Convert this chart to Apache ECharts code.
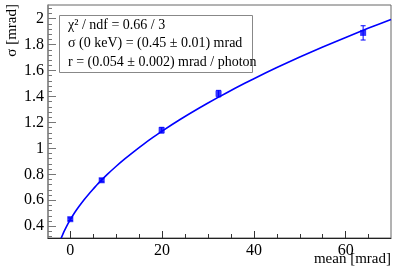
<!DOCTYPE html>
<html>
<head>
<meta charset="utf-8">
<script src="https://cdn.jsdelivr.net/npm/echarts@6/dist/echarts.min.js"></script>
<style>html,body{margin:0;padding:0;background:#fff}#c{width:399px;height:271px}</style>
</head>
<body>
<div id="c"></div>
<script>
// measured points
var meanVals = [0, 6.84, 19.9, 32.3, 63.8];
var sigmaVals = [0.454, 0.754, 1.14, 1.422, 1.89];
var sigmaErr = [0.01, 0.012, 0.022, 0.025, 0.055];
// fit curve samples (read from the drawn fit)
var fitX = [-2.0, -1.5, -1, -0.5, 0, 1, 2, 3, 4, 5, 6, 8, 10, 12, 14, 16, 18, 20, 24, 28, 32, 36, 40, 45, 50, 55, 60, 65, 69.87];
var fitY = [0.307, 0.349, 0.385, 0.419, 0.45, 0.507, 0.557, 0.604, 0.647, 0.687, 0.726, 0.797, 0.862, 0.922, 0.979, 1.033, 1.084, 1.133, 1.224, 1.309, 1.389, 1.465, 1.537, 1.623, 1.704, 1.781, 1.855, 1.927, 1.994];
// axis ticks
var xMajor = [0, 20, 40, 60];
var xMinor = [5, 10, 15, 25, 30, 35, 45, 50, 55, 65];
var yMajor = [0.4, 0.6, 0.8, 1, 1.2, 1.4, 1.6, 1.8, 2];
var yMinor = [0.32, 0.36, 0.44, 0.48, 0.52, 0.56, 0.64, 0.68, 0.72, 0.76, 0.84, 0.88, 0.92, 0.96, 1.04, 1.08, 1.12, 1.16, 1.24, 1.28, 1.32, 1.36, 1.44, 1.48, 1.52, 1.56, 1.64, 1.68, 1.72, 1.76, 1.84, 1.88, 1.92, 1.96, 2.04, 2.08];
var statLines = ['\u03c7\u00b2 / ndf = 0.66 / 3', '\u03c3 (0 keV) = (0.45 \u00b1 0.01) mrad', 'r = (0.054 \u00b1 0.002) mrad / photon'];

var FONT = '"Liberation Serif", "DejaVu Serif", serif';
var X_MIN = -4.86, X_MAX = 69.87, Y_MIN = 0.309, Y_MAX = 2.105;

var chart = echarts.init(document.getElementById('c'), null, {renderer: 'canvas'});

function xAx(custom, len, labels) {
  return {
    type: 'value', min: X_MIN, max: X_MAX, position: 'bottom',
    axisLine: {show: labels, onZero: false, lineStyle: {color: '#222', width: 1}},
    splitLine: {show: false},
    axisTick: {show: true, inside: true, length: len, customValues: custom, lineStyle: {color: '#333', width: 1}},
    axisLabel: {show: labels, customValues: custom, fontFamily: FONT, fontSize: 16, color: '#000', margin: 5}
  };
}
function yAx(custom, len, labels) {
  return {
    type: 'value', min: Y_MIN, max: Y_MAX, position: 'left',
    axisLine: {show: labels, onZero: false, lineStyle: {color: '#888', width: 1.5}},
    splitLine: {show: false},
    axisTick: {show: true, inside: true, length: len, customValues: custom, lineStyle: {color: '#777', width: 1}},
    axisLabel: {show: labels, customValues: custom, fontFamily: FONT, fontSize: 16, color: '#000', margin: 4}
  };
}

var scatterData = meanVals.map(function (m, i) { return [m, sigmaVals[i], sigmaErr[i]]; });
var fitData = fitX.map(function (x, i) { return [x, fitY[i]]; });

var graphics = [
  {type: 'rect', shape: {x: 59.5, y: 15.5, width: 193, height: 57}, style: {fill: '#fff', stroke: '#888', lineWidth: 1}, z: 100},
  {type: 'text', x: 391, y: 259, style: {text: 'mean [mrad]', font: '15px ' + FONT, fill: '#000', textAlign: 'right', textVerticalAlign: 'middle'}, z: 100},
  {type: 'text', x: 12, y: 4, rotation: Math.PI / 2, style: {text: '\u03c3 [mrad]', font: '15px ' + FONT, fill: '#000', textAlign: 'right', textVerticalAlign: 'middle'}, z: 100}
];
statLines.forEach(function (t, i) {
  graphics.push({type: 'text', x: 68, y: 25 + i * 18.8, style: {text: t, font: '14px ' + FONT, fill: '#000', textAlign: 'left', textVerticalAlign: 'middle'}, z: 101});
});

chart.setOption({
  animation: false,
  backgroundColor: '#fff',
  grid: {left: 48, right: 8, top: 5, bottom: 33, show: true, borderColor: '#666', borderWidth: 1, backgroundColor: 'transparent'},
  xAxis: [xAx(xMajor, 7, true), xAx(xMinor, 4, false)],
  yAxis: [yAx(yMajor, 8, true), yAx(yMinor, 4, false)],
  graphic: graphics,
  series: [
    {type: 'line', data: fitData, xAxisIndex: 0, yAxisIndex: 0, showSymbol: false, smooth: 0.2, clip: true,
     lineStyle: {color: '#0000ff', width: 1.6}, z: 3},
    {type: 'custom', data: scatterData, xAxisIndex: 0, yAxisIndex: 0, z: 4,
     renderItem: function (params, api) {
       var x = api.value(0), y = api.value(1), e = api.value(2);
       var top = api.coord([x, y + e]), bot = api.coord([x, y - e]);
       var st = {stroke: '#0000ff', lineWidth: 1};
       return {type: 'group', children: [
         {type: 'line', shape: {x1: top[0], y1: top[1], x2: bot[0], y2: bot[1]}, style: st},
         {type: 'line', shape: {x1: top[0] - 2.5, y1: top[1], x2: top[0] + 2.5, y2: top[1]}, style: st},
         {type: 'line', shape: {x1: bot[0] - 2.5, y1: bot[1], x2: bot[0] + 2.5, y2: bot[1]}, style: st}
       ]};
     }},
    {type: 'scatter', data: scatterData, xAxisIndex: 0, yAxisIndex: 0, symbol: 'rect', symbolSize: 6,
     itemStyle: {color: '#0000ff'}, z: 5}
  ]
});
</script>
</body>
</html>
